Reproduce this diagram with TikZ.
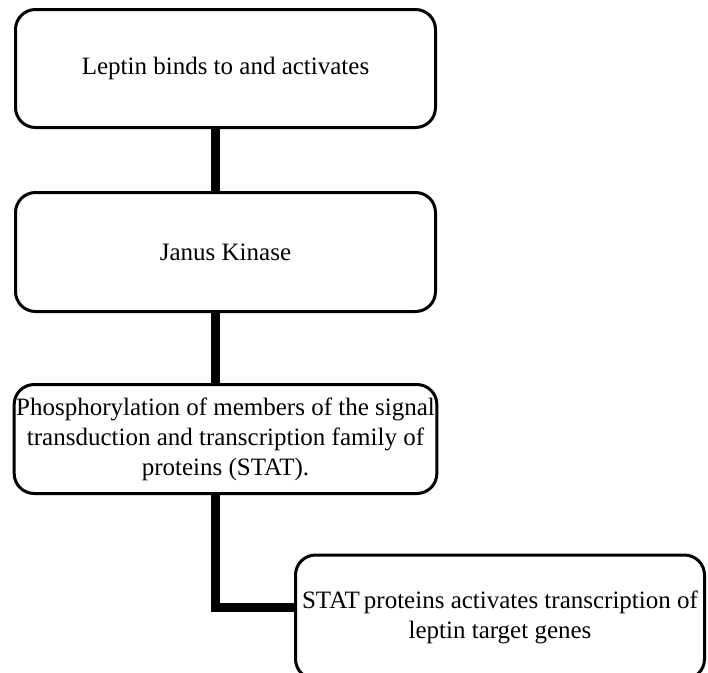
\documentclass[tikz,border=0pt]{standalone}
\usepackage{fontspec}
\setmainfont{Liberation Serif}
\usepackage{tikz}
\usetikzlibrary{calc}
\tikzset{
  riquadro/.style={draw, line width=3pt, rounded corners=20pt, align=center,
    inner sep=2pt, font=\fontsize{25}{30}\selectfont},
  linea/.style={line width=9pt}
}

\begin{document}
\begin{tikzpicture}[x=1pt, y=-1pt]
    % Parametri
    \pgfmathsetmacro{\larg}{420}
    \pgfmathsetmacro{\xasse}{215}
    \useasboundingbox (0,0) rectangle (708,672);
    % Riquadri
    \node[riquadro, minimum width=\larg, minimum height=118] (leptina) at (225.5,68.5)
      {Leptin binds to and activates};
    \node[riquadro, minimum width=\larg, minimum height=119] (janus) at (225.5,252)
      {Janus Kinase};
    \node[riquadro, minimum width=\larg, minimum height=109] (fosfo) at (225.5,439)
      {Phosphorylation of members of the signal\\
       transduction and transcription family of\\
       proteins (STAT).};
    \node[riquadro, minimum width=409, minimum height=124] (stat) at (500,617)
      {STAT\,proteins activates transcription of\\ leptin target genes};
    % Collegamenti
    \coordinate (asse) at (\xasse,0);
    \draw[linea] (leptina.south -| asse) -- (janus.north -| asse);
    \draw[linea] (janus.south -| asse) -- (fosfo.north -| asse);
    \draw[linea] (fosfo.south -| asse) |- ($(stat.west)+(0,-10)$);
\end{tikzpicture}
\end{document}
